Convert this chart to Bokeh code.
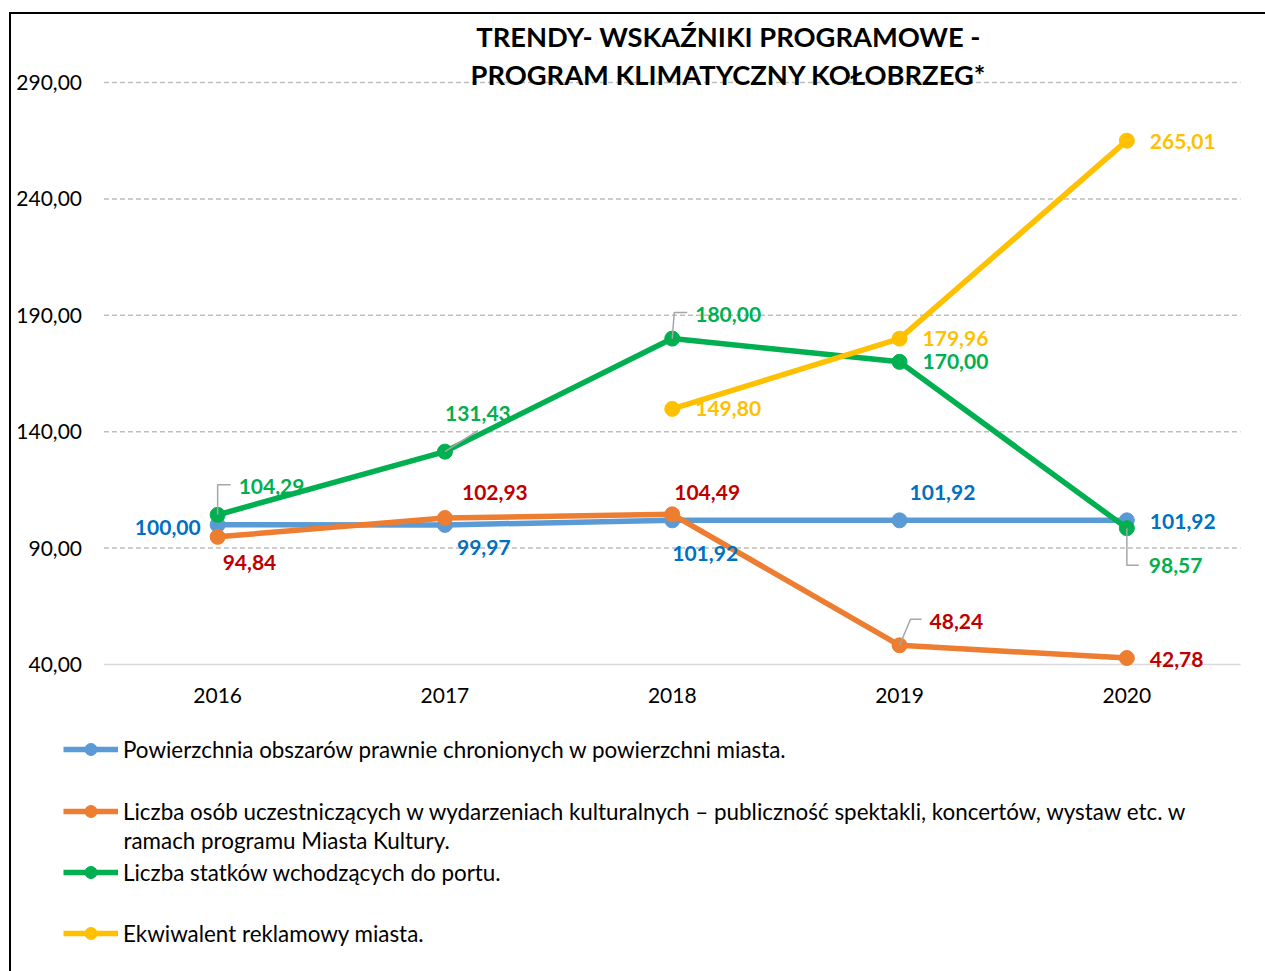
from bokeh.plotting import figure
from bokeh.layouts import column
from bokeh.models import (ColumnDataSource, FixedTicker, Legend, LegendItem, Label, Range1d)
from bokeh.core.properties import value
from bokeh.embed import file_html
from bokeh.resources import INLINE

# ---------------- data ----------------
years = [2016, 2017, 2018, 2019, 2020]
powierzchnia = [100.00, 99.97, 101.92, 101.92, 101.92]
kultura = [94.84, 102.93, 104.49, 48.24, 42.78]
statki = [104.29, 131.43, 180.00, 170.00, 98.57]
ekwiwalent = [None, None, 149.80, 179.96, 265.01]
y_ticks = [40, 90, 140, 190, 240, 290]

title_lines = ["TRENDY- WSKAŹNIKI PROGRAMOWE -", "PROGRAM KLIMATYCZNY KOŁOBRZEG*"]
legend_labels = [
    "Powierzchnia obszarów prawnie chronionych w powierzchni miasta.",
    "Liczba osób uczestniczących w wydarzeniach kulturalnych – publiczność spektakli, koncertów, wystaw etc. w",
    "Liczba statków wchodzących do portu.",
    "Ekwiwalent reklamowy miasta.",
]
legend_label_2b = "ramach programu Miasta Kultury."

# ---------------- layout / style ----------------
FONT = "Lato"
W, H = 1254, 957                 # canvas (page x 11..1265, y 14..971)
ORG_X, ORG_Y = 11, 14            # page position of canvas
PLOT_L, PLOT_R = 103.5, 1240.0   # page x of plotting area
BASE_Y, TOP_Y = 664.0, 82.0      # page y of 40 and 290
X0, X1 = 2015.5, 2020.5
PX_PER_X = (PLOT_R - PLOT_L) / (X1 - X0)
PX_PER_Y = (BASE_Y - TOP_Y) / (y_ticks[-1] - y_ticks[0])
XS = X0 - (PLOT_L - ORG_X) / PX_PER_X
XE = X1 + (ORG_X + W - PLOT_R) / PX_PER_X
YS = y_ticks[0] - (ORG_Y + H - BASE_Y) / PX_PER_Y
YE = y_ticks[0] + (BASE_Y - ORG_Y) / PX_PER_Y
BOTTOM = ORG_Y + H

series = [
    dict(vals=powierzchnia, line="#5B9BD5", lab="#0070C0",
         offs=[(-17, 3, "right"), (12, 23, "left"), (0, 33, "left"), (10, -28, "left"), (23, 1, "left")]),
    dict(vals=kultura, line="#ED7D31", lab="#C00000",
         offs=[(5, 26, "left"), (17, -25, "left"), (2, -22, "left"), (30, -24, "left"), (23, 1, "left")]),
    dict(vals=statki, line="#00B050", lab="#00B050",
         offs=[(21, -28, "left"), (0, -38, "left"), (23, -24, "left"), (23, 0, "left"), (22, 37, "left")]),
    dict(vals=ekwiwalent, line="#FFC000", lab="#FFC000",
         offs=[None, None, (23, 0, "left"), (23, 0, "left"), (23, 1, "left")]),
]

# leader lines: (series index, point index, list of pixel offsets)
leaders = [
    (2, 0, [(0, 0), (0, -30), (13, -30)]),
    (2, 1, [(0, 0), (33, -21)]),
    (2, 2, [(0, 0), (2, -26), (15, -26)]),
    (1, 3, [(0, 0), (11, -26), (22, -26)]),
    (2, 4, [(0, 0), (0, 37), (12, 37)]),
]

p = figure(width=W, height=H, output_backend="svg", toolbar_location=None,
           x_range=Range1d(XS, XE), y_range=Range1d(YS, YE), min_border=0,
           background_fill_color="white", border_fill_color="white")
p.outline_line_color = None
p.xgrid.visible = False
p.ygrid.visible = False

# axes (drawn at fixed data locations inside the canvas)
p.xaxis.ticker = FixedTicker(ticks=years)
p.yaxis.ticker = FixedTicker(ticks=y_ticks)
p.yaxis.major_label_overrides = {t: f"{t:.2f}".replace(".", ",") for t in y_ticks}
p.xaxis.fixed_location = y_ticks[0]
p.yaxis.fixed_location = X0
for ax in (p.xaxis, p.yaxis):
    ax.major_tick_line_color = None
    ax.minor_tick_line_color = None
    ax.major_tick_out = 0
    ax.major_tick_in = 0
    ax.axis_line_color = None
    ax.major_label_text_font = FONT
    ax.major_label_text_font_size = "21px"
    ax.major_label_text_color = "#000000"
p.yaxis.major_label_standoff = 22
p.xaxis.major_label_standoff = 23

# horizontal gridlines over the plotting area
grid_src = ColumnDataSource(dict(y=y_ticks[1:], x0=[X0] * (len(y_ticks) - 1), x1=[X1] * (len(y_ticks) - 1)))
p.segment(x0="x0", y0="y", x1="x1", y1="y", source=grid_src,
          line_color="#BFBFBF", line_dash="5 3", line_width=1.5)
p.segment(x0=[X0], y0=[y_ticks[0]], x1=[X1], y1=[y_ticks[0]], line_color="#D9D9D9", line_width=1.5)

# series
legend_items = []
for s, lab in zip(series, legend_labels):
    xs = [x for x, v in zip(years, s["vals"]) if v is not None]
    ys = [v for v in s["vals"] if v is not None]
    src = ColumnDataSource(dict(x=xs, y=ys))
    l = p.line("x", "y", source=src, line_color=s["line"], line_width=5.5, line_join="round")
    m = p.scatter("x", "y", source=src, size=15, fill_color=s["line"], line_color=s["line"])
    legend_items.append(LegendItem(label=lab, renderers=[l, m]))

# leader lines
for si, pi, pts in leaders:
    v = series[si]["vals"][pi]
    x = years[pi]
    lx = [x + dx / PX_PER_X for dx, dy in pts]
    ly = [v - dy / PX_PER_Y for dx, dy in pts]
    p.line(lx, ly, line_color="#A6A6A6", line_width=1.5)

# data labels
for s in series:
    for align in ("left", "right"):
        xs, ys, txt, xo, yo = [], [], [], [], []
        for x, v, o in zip(years, s["vals"], s["offs"]):
            if v is None or o is None or o[2] != align:
                continue
            xs.append(x); ys.append(v)
            txt.append(f"{v:.2f}".replace(".", ","))
            xo.append(o[0]); yo.append(o[1])
        if not xs:
            continue
        src = ColumnDataSource(dict(x=xs, y=ys, t=txt, xo=xo, yo=yo))
        p.text("x", "y", text="t", source=src, x_offset="xo", y_offset="yo",
               text_align=align, text_baseline="middle", text_font=value(FONT),
               text_font_style="bold", text_font_size="21px", text_color=s["lab"])

# title (screen units relative to canvas bottom-left)
title_centers = [38, 76]
for line, cy in zip(title_lines, title_centers):
    p.add_layout(Label(x=728 - ORG_X, y=BOTTOM - cy + 2, x_units="screen", y_units="screen",
                       text=line, text_align="center", text_baseline="middle", text_font=FONT,
                       text_font_style="bold", text_font_size="27.3px", text_color="#000000"))

# legend
GH = 30
LEG_FONT = "22.4px"
legend_centers = [750, 812, 873, 934]
for item, cy in zip(legend_items, legend_centers):
    lg = Legend(items=[item], location=(63 - ORG_X, BOTTOM - cy + 1 - GH // 2),
                padding=0, margin=0, spacing=0, border_line_color=None,
                background_fill_alpha=0, glyph_width=55, glyph_height=GH,
                label_standoff=5, label_height=GH, label_text_font=FONT,
                label_text_font_size=LEG_FONT, label_text_color="#000000")
    p.add_layout(lg, "center")
p.add_layout(Label(x=123 - ORG_X, y=BOTTOM - 841 + 1, x_units="screen", y_units="screen",
                   text=legend_label_2b, text_align="left", text_baseline="middle",
                   text_font=FONT, text_font_size=LEG_FONT, text_color="#000000"))

layout = column(p, spacing=0, margin=(12, 0, 0, 9),
                styles={"border-top": "2px solid #000000", "border-left": "2px solid #000000"})

open("out.html", "w").write(file_html(layout, INLINE))
